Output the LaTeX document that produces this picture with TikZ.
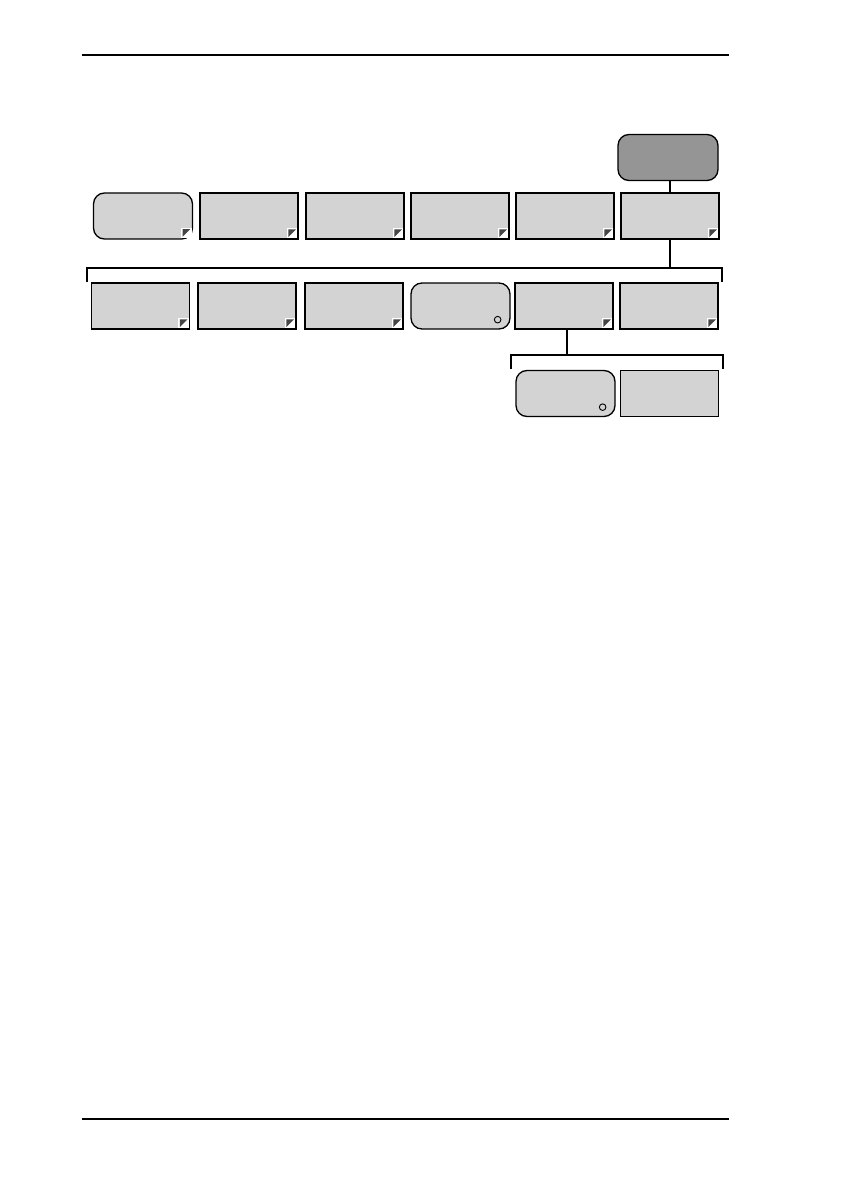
\documentclass[tikz,border=0pt]{standalone}
\usetikzlibrary{positioning}
\definecolor{boxgray}{HTML}{D4D3D4}
\definecolor{topgray}{HTML}{959595}
\definecolor{markgray}{HTML}{454545}
\begin{document}
\begin{tikzpicture}[x=1pt,y=-1pt,
  rectbox/.style={draw=black,line width=1.8pt,fill=boxgray,minimum width=98pt,minimum height=46pt,inner sep=0pt},
  roundbox/.style={draw=black,line width=1.3pt,fill=boxgray,rounded corners=11pt,minimum width=99pt,minimum height=46pt,inner sep=0pt},
  topbox/.style={draw=black,line width=1.3pt,fill=topgray,rounded corners=11pt,minimum width=100pt,minimum height=46pt,inner sep=0pt},
  conn/.style={line width=1.8pt},
  rule/.style={line width=1.2pt}]
\useasboundingbox (0,0) rectangle (840,1190);
\draw[rule] (82,55) -- (729,55);
\draw[rule] (82,1119) -- (729,1119);
% top
\node[topbox] (top) at (668,157.5) {};
% row 1
\node[roundbox] (a1) at (143,216) {};
\node[rectbox] (a2) at (249,216) {};
\node[rectbox] (a3) at (355,216) {};
\node[rectbox] (a4) at (460,216) {};
\node[rectbox] (a5) at (565,216) {};
\node[rectbox] (a6) at (670,216) {};
% row 2
\node[rectbox] (b1) at (140.5,306) {};
\node[rectbox] (b2) at (247,306) {};
\node[rectbox] (b3) at (354,306) {};
\node[roundbox] (b4) at (460.5,306) {};
\node[rectbox] (b5) at (564,306) {};
\node[rectbox] (b6) at (669,306) {};
% row 3
\node[roundbox] (c1) at (565.5,393.5) {};
\node[rectbox] (c2) at (669.5,393.5) {};
% corner marks
\foreach \n in {a1,a2,a3,a4,a5,a6,b1,b2,b3,b5,b6}{
  \fill[white] ([shift={(-12,-12)}]\n.south east) rectangle ([shift={(-1.5,-1.5)}]\n.south east);
  \fill[markgray] ([shift={(-10.5,-10.5)}]\n.south east) -- ([shift={(-3,-10.5)}]\n.south east) -- ([shift={(-10.5,-3)}]\n.south east) -- cycle;
}
% circles
\foreach \n in {b4,c1}{
  \draw[line width=0.9pt,fill=boxgray] ([shift={(-13,-10)}]\n.south east) circle (3.3);
}
% connectors
\coordinate (br1) at (670,268);
\coordinate (br2) at (567,355);
\draw[conn] (top.south -| a6.north) -- (a6.north);
\draw[conn] (a6.south) -- (br1);
\draw[conn] (87,282) -- (87,268) -- (722,268) -- (722,282);
\draw[conn] (b5.south -| br2) -- (br2);
\draw[conn] (511,369) -- (511,355) -- (723,355) -- (723,369);
\end{tikzpicture}
\end{document}
